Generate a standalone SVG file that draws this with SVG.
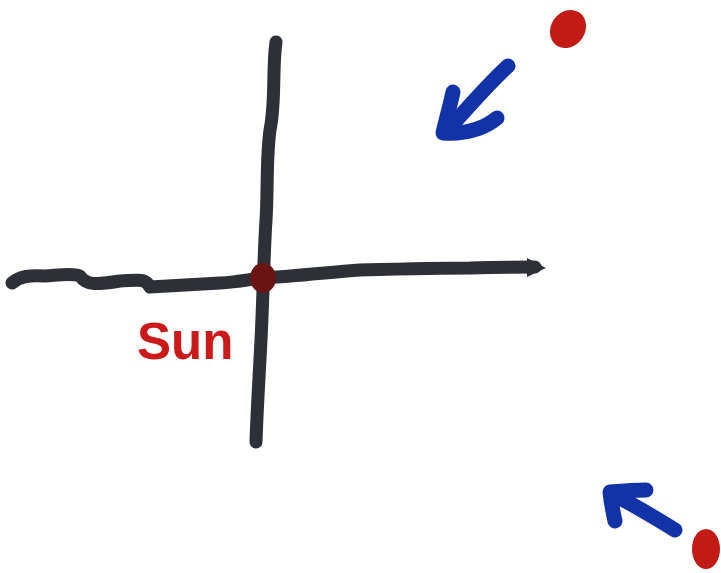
<svg xmlns="http://www.w3.org/2000/svg" width="721" height="573" viewBox="0 0 721 573">
<style>
.axis{fill:none;stroke:#2e3038;stroke-width:13;stroke-linecap:round;stroke-linejoin:round}
.blue{fill:none;stroke:#1232a8;stroke-width:15;stroke-linecap:round;stroke-linejoin:round}
.red{fill:#c41a16}
</style>
<rect width="721" height="573" fill="#ffffff"/>
<g id="axes">
<path class="axis" d="M276,42 C272,70 276,100 270,130 C266,160 268,190 266,220 C264,250 263,300 261,340 C259,380 257,410 256,442"/>
<path class="axis" d="M12,283 C20,276 30,275 45,276 C60,275 72,273 80,276 C86,285 95,285 120,281 C140,280 145,278 150,287 C170,286 200,284 220,283 C240,282 250,279 262,278 C300,276 330,272 360,270 C400,269 440,268 470,268 C500,267 520,267 535,267"/>
<path d="M527,258 L546,268 L527,277 Z" fill="#2e3038"/>
</g>
<g id="sun-point">
<ellipse cx="263" cy="278" rx="13" ry="15" fill="#6a1414"/>
</g>
<g id="sun-label">
<text x="137" y="359" font-family="Liberation Sans, Arial, sans-serif" font-weight="bold" font-size="51" fill="#cc1a1a">Sun</text>
</g>
<g id="red-dot-top">
<ellipse class="red" cx="568" cy="29" rx="17" ry="20" transform="rotate(35 568 29)"/>
</g>
<g id="blue-arrow-top">
<path class="blue" d="M508,66 C490,82 470,105 446,132"/>
<path class="blue" d="M453,92 C450,106 446,120 443,133 C460,134 480,132 497,118"/>
</g>
<g id="blue-arrow-bottom">
<path class="blue" d="M675,530 C655,518 635,505 612,494"/>
<path class="blue" d="M646,490 C634,490 622,491 610,492 C611,502 613,512 615,521"/>
</g>
<g id="red-dot-bottom">
<ellipse class="red" cx="706" cy="549" rx="14" ry="20"/>
</g>
</svg>
